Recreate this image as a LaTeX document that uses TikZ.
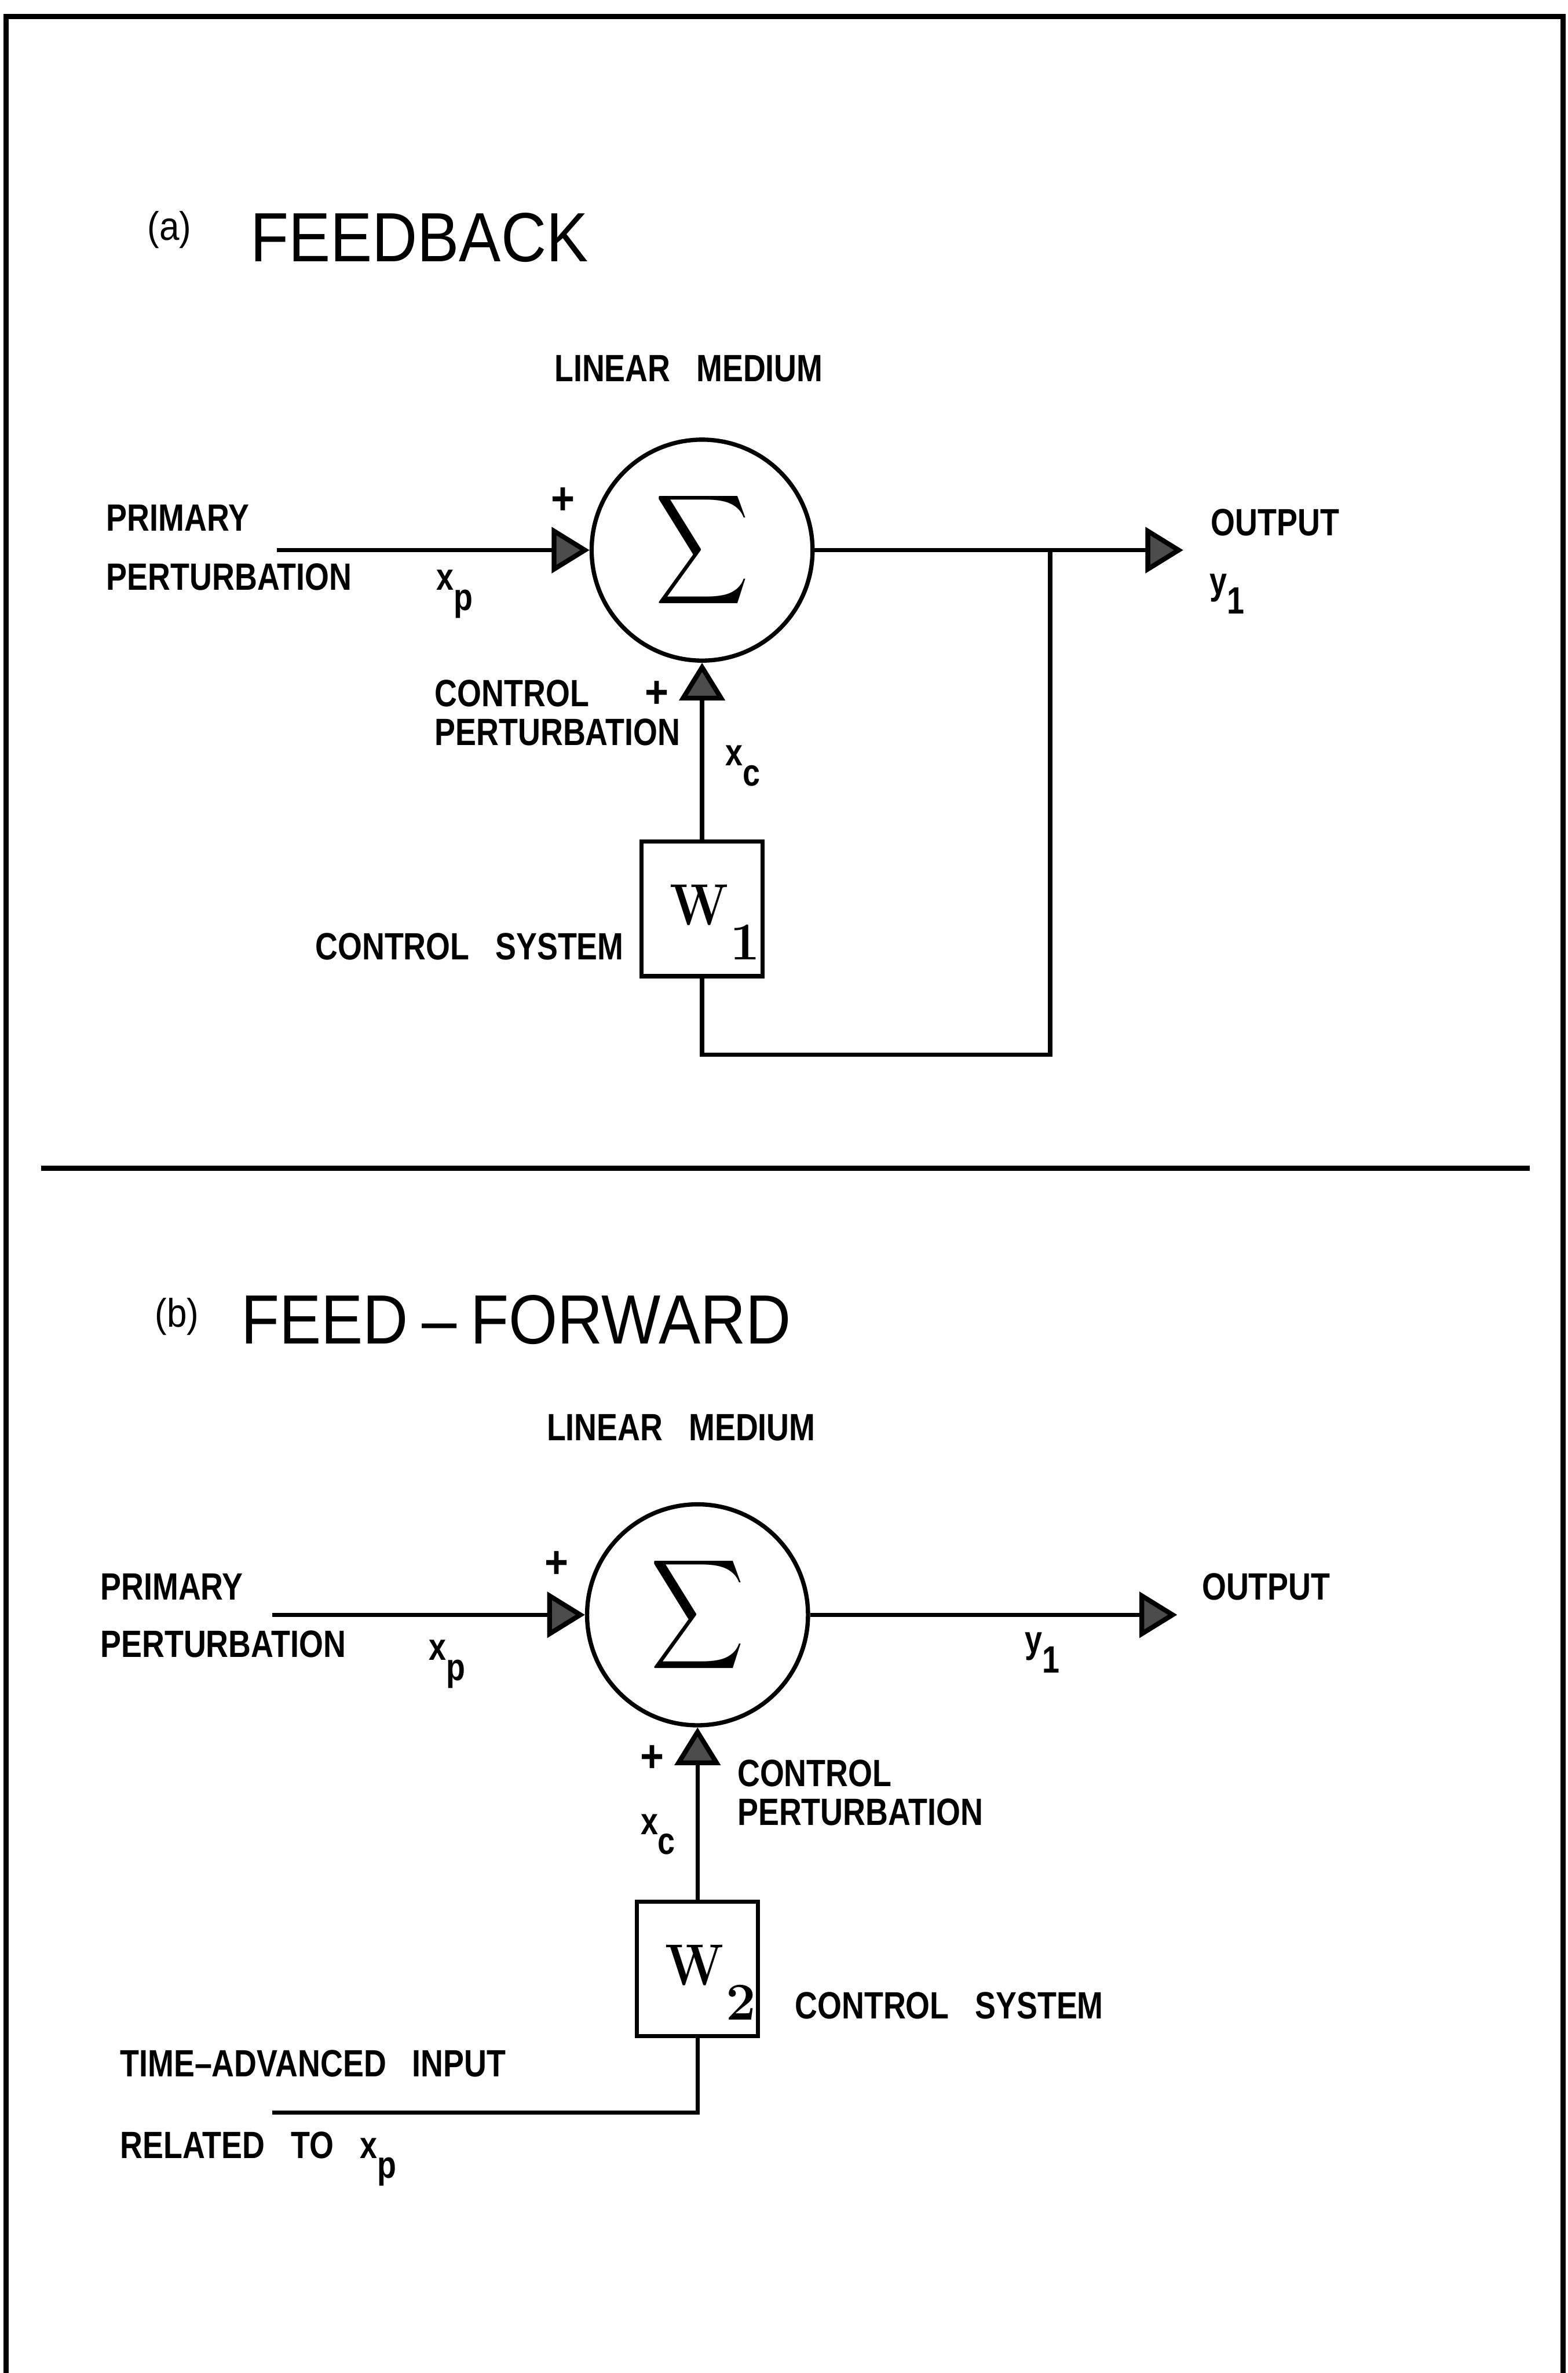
\documentclass[tikz,border=0pt]{standalone}
\usepackage{graphicx}
\usepackage{fontspec}
\usetikzlibrary{arrows.meta,positioning}
\newfontfamily\lblfont{Liberation Sans}[FakeStretch=0.82,WordSpace=3]
\newfontfamily\ttlfont{Liberation Sans}[FakeStretch=0.9]
\newcommand\lowsub[1]{\raisebox{-1ex}{#1}}
\newcommand\wsys[1]{\hspace{3.4mm}\raisebox{0pt}[5.4mm][1.2mm]{\scalebox{0.86}[1]{W}\hspace{0.3mm}\raisebox{-4.6mm}{\fontsize{20}{20}\selectfont#1}}}
\newcommand\bigsum{\resizebox*{12.4mm}{16.2mm}{$\displaystyle\sum$}}

\begin{document}
\begin{tikzpicture}[x=0.2mm,y=-0.2mm,line width=1.6pt,
 lbl/.style={font=\lblfont\bfseries\fontsize{14.3}{14.5}\selectfont,inner sep=0pt,anchor=base west,align=left},
 ttl/.style={font=\ttlfont\fontsize{26.2}{28}\selectfont,inner sep=0pt,anchor=base west},
 tag/.style={font=\ttlfont\fontsize{15}{15}\selectfont,inner sep=0pt},
 sign/.style={font=\ttlfont\bfseries\fontsize{17}{17}\selectfont,inner sep=0pt},
 sumnode/.style={draw,circle,minimum size=29.2mm,inner sep=0pt},
 wbox/.style={draw,rectangle,minimum width=16mm,minimum height=17.8mm,inner sep=0pt,
  font=\bfseries\fontsize{22}{22}\selectfont},
 flow/.style={-{Triangle[length=5mm,width=6mm,fill=black!70,line width=1.8pt]}},
 frame/.style={line width=2pt}]
\useasboundingbox (0,0) rectangle (1036,1568);
\draw[frame] (4,1568) -- (4,11) -- (1033,11) -- (1033,1568);
\draw[frame] (27,772) -- (1011,772);

% (a) feedback
\node[tag] (taga) at (112,152) {(a)};
\node[ttl] (ttla) at (164,173) {FEEDBACK};
\node[lbl] (meda) at (365,252) {LINEAR MEDIUM};
\node[sumnode] (suma) at (464,363.5) {\bigsum};
\coordinate (ina) at (183,363.5);
\coordinate (outa) at (782,363.5);
\coordinate (ja) at (694,363.5);
\coordinate (fba) at (694,697);
\node[wbox] (wa) at (464,600.5) {\wsys{1}};
\node[lbl] (pria) at (69,351) {PRIMARY};
\node[lbl] (pera) at (69,390) {PERTURBATION};
\node[lbl] (xpa) at (287,390) {x\lowsub{p}};
\node[sign] (pla) at (372,331) {+};
\node[sign] (pca) at (434,459) {+};
\node[lbl] (cpa) at (286,492.5) {CONTROL\\PERTURBATION};
\node[lbl] (xca) at (478,506) {x\lowsub{c}};
\node[lbl] (csa) at (207,634) {CONTROL SYSTEM};
\node[lbl] (oua) at (799,354) {OUTPUT};
\node[lbl] (ya) at (798,392.5) {y\lowsub{1}};
\foreach \a/\b in {ina/suma,suma/outa,wa/suma} \draw[flow] (\a)--(\b);
\draw (ja) -- (fba) -| (wa);

% (b) feed-forward
\node[tag] (tagb) at (117,870) {(b)};
\node[ttl] (ttlb) at (158,888) {FEED\hspace{1.8mm}–\hspace{1.8mm}FORWARD};
\node[lbl] (medb) at (360,952) {LINEAR MEDIUM};
\node[sumnode] (sumb) at (461,1067) {\bigsum};
\coordinate (inb) at (180,1067);
\coordinate (outb) at (778,1067);
\coordinate (tab) at (180,1396);
\node[wbox] (wb) at (461,1301) {\wsys{2}};
\node[lbl] (prib) at (65,1057) {PRIMARY};
\node[lbl] (perb) at (65,1095) {PERTURBATION};
\node[lbl] (xpb) at (282,1097) {x\lowsub{p}};
\node[sign] (plb) at (368,1034) {+};
\node[sign] (pcb) at (431,1162) {+};
\node[lbl] (xcb) at (422,1212) {x\lowsub{c}};
\node[lbl] (cpb) at (486,1206) {CONTROL\\PERTURBATION};
\node[lbl] (csb) at (524,1334) {CONTROL SYSTEM};
\node[lbl] (oub) at (793,1057) {OUTPUT};
\node[lbl] (yb) at (676,1092) {y\lowsub{1}};
\node[lbl] (tib) at (78,1372) {TIME–ADVANCED INPUT};
\node[lbl] (rtb) at (78,1426) {RELATED TO x\lowsub{p}};
\foreach \a/\b in {inb/sumb,sumb/outb,wb/sumb} \draw[flow] (\a)--(\b);
\draw (wb) |- (tab);
\end{tikzpicture}
\end{document}
